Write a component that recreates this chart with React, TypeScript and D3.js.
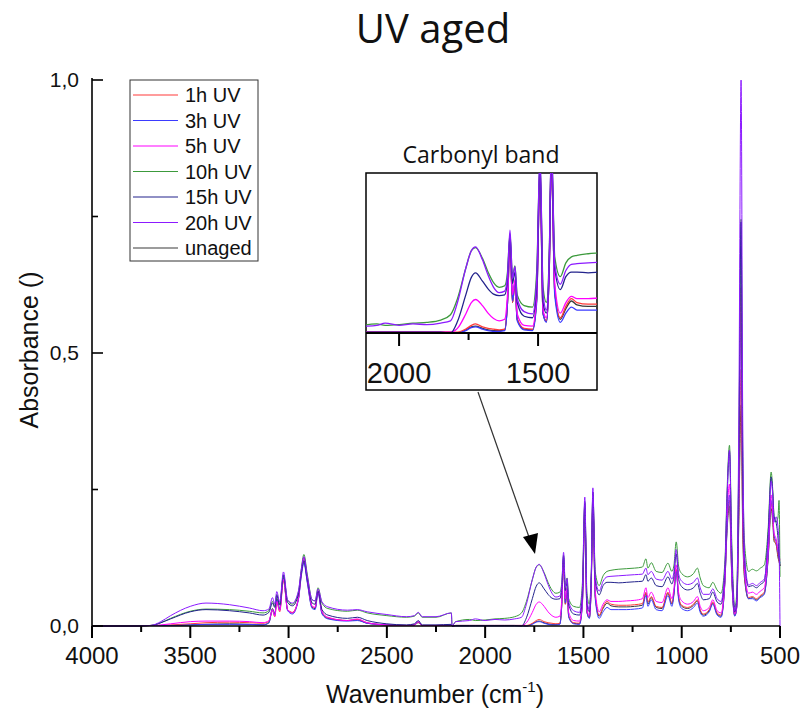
import * as d3 from "d3";

// FTIR spectra, UV aged samples
const wavenumbers = [
  4000, 3800, 3700, 3650, 3600, 3500, 3420, 3300, 3200, 3130,
  3100, 3082, 3070, 3060, 3045, 3026, 3005, 2980, 2950, 2935,
  2922, 2905, 2880, 2865, 2850, 2830, 2800, 2700, 2650, 2600,
  2500, 2400, 2360, 2340, 2320, 2250, 2172, 2168, 2150, 2080,
  2050, 2000, 1950, 1900, 1850, 1815, 1790, 1760, 1740, 1725,
  1700, 1680, 1660, 1640, 1620, 1610, 1601, 1592, 1583, 1575,
  1550, 1520, 1505, 1493, 1482, 1470, 1460, 1452, 1440, 1420,
  1400, 1380, 1360, 1320, 1280, 1240, 1200, 1182, 1172, 1155,
  1130, 1100, 1070, 1050, 1040, 1028, 1015, 1000, 970, 940,
  920, 906, 890, 860, 842, 820, 800, 780, 770, 757,
  745, 730, 720, 710, 698, 690, 680, 660, 640, 620,
  600, 580, 560, 545, 537, 530, 520, 510, 505, 500,
];

const unaged = [
  0, 0, 0.001, 0.001, 0.001, 0.002, 0.003, 0.004, 0.003, 0.002,
  0.006, 0.032, 0.022, 0.05, 0.031, 0.088, 0.03, 0.024, 0.05, 0.095,
  0.118, 0.082, 0.034, 0.032, 0.062, 0.024, 0.014, 0.01, 0.011, 0.005,
  0.002, 0.001, 0.002, 0.006, 0.001, 0.001, 0.001, 0, 0.001, 0.001,
  0.001, 0.001, 0.001, 0.001, 0.001, 0.001, 0, 0.004, 0.008, 0.009,
  0.006, 0.004, 0.003, 0.003, 0.004, 0.04, 0.12, 0.04, 0.066, 0.018,
  0.005, 0.004, 0.045, 0.205, 0.026, 0.015, 0.08, 0.225, 0.055, 0.018,
  0.032, 0.042, 0.037, 0.035, 0.035, 0.036, 0.038, 0.06, 0.04, 0.052,
  0.034, 0.032, 0.06, 0.04, 0.058, 0.102, 0.05, 0.036, 0.032, 0.038,
  0.046, 0.028, 0.02, 0.028, 0.042, 0.022, 0.018, 0.083, 0.17, 0.22,
  0.085, 0.019, 0.035, 0.18, 0.405, 0.18, 0.085, 0.05, 0.052, 0.048,
  0.054, 0.06, 0.125, 0.215, 0.19, 0.155, 0.15, 0.125, 0.118, 0.11,
];

const uv1h = [
  0, 0, 0.001, 0.001, 0.002, 0.004, 0.006, 0.007, 0.006, 0.005,
  0.008, 0.028, 0.017, 0.044, 0.026, 0.083, 0.03, 0.025, 0.05, 0.1,
  0.126, 0.088, 0.036, 0.034, 0.065, 0.026, 0.015, 0.01, 0.012, 0.006,
  0.002, 0.001, 0.002, 0.007, 0.001, 0.001, 0.001, 0, 0.001, 0.001,
  0.001, 0.001, 0.001, 0.001, 0.001, 0.001, 0.001, 0.005, 0.01, 0.012,
  0.008, 0.006, 0.005, 0.004, 0.005, 0.04, 0.118, 0.04, 0.065, 0.018,
  0.006, 0.005, 0.045, 0.21, 0.025, 0.016, 0.08, 0.228, 0.055, 0.02,
  0.035, 0.045, 0.04, 0.038, 0.038, 0.039, 0.041, 0.062, 0.044, 0.054,
  0.036, 0.034, 0.062, 0.042, 0.06, 0.104, 0.052, 0.038, 0.034, 0.04,
  0.048, 0.03, 0.022, 0.03, 0.044, 0.024, 0.02, 0.085, 0.18, 0.23,
  0.09, 0.02, 0.036, 0.2, 0.47, 0.2, 0.09, 0.052, 0.054, 0.05,
  0.056, 0.062, 0.13, 0.225, 0.2, 0.16, 0.15, 0.13, 0.12, 0.11,
];

const uv3h = [
  0, 0, 0.001, 0.001, 0.001, 0.002, 0.003, 0.003, 0.003, 0.002,
  0.006, 0.03, 0.02, 0.048, 0.03, 0.09, 0.028, 0.022, 0.048, 0.092,
  0.115, 0.08, 0.032, 0.03, 0.06, 0.022, 0.013, 0.009, 0.01, 0.005,
  0.002, 0.001, 0.002, 0.008, 0.001, 0.001, 0.001, 0, 0, 0,
  0, 0, 0, 0, 0, 0, 0, 0.003, 0.007, 0.008,
  0.005, 0.003, 0.002, 0.002, 0.003, 0.04, 0.125, 0.042, 0.068, 0.016,
  0.004, 0.003, 0.04, 0.215, 0.025, 0.014, 0.078, 0.232, 0.05, 0.014,
  0.026, 0.034, 0.03, 0.03, 0.03, 0.031, 0.033, 0.056, 0.036, 0.048,
  0.03, 0.028, 0.056, 0.036, 0.056, 0.1, 0.046, 0.032, 0.028, 0.034,
  0.042, 0.025, 0.018, 0.026, 0.04, 0.02, 0.016, 0.082, 0.175, 0.24,
  0.088, 0.018, 0.034, 0.22, 0.57, 0.24, 0.095, 0.05, 0.05, 0.046,
  0.052, 0.058, 0.128, 0.23, 0.205, 0.165, 0.155, 0.135, 0.125, 0.115,
];

const uv5h = [
  0, 0, 0.001, 0.002, 0.004, 0.008, 0.009, 0.009, 0.008, 0.006,
  0.01, 0.03, 0.018, 0.045, 0.028, 0.085, 0.03, 0.024, 0.05, 0.098,
  0.124, 0.086, 0.036, 0.034, 0.064, 0.026, 0.016, 0.01, 0.013, 0.006,
  0.002, 0.001, 0.002, 0.008, 0.001, 0.001, 0.002, 0, 0.001, 0.001,
  0.001, 0.001, 0.001, 0.001, 0.001, 0.001, 0.006, 0.025, 0.04, 0.044,
  0.036, 0.026, 0.019, 0.016, 0.018, 0.05, 0.122, 0.05, 0.07, 0.025,
  0.01, 0.009, 0.05, 0.222, 0.03, 0.02, 0.085, 0.24, 0.065, 0.026,
  0.04, 0.048, 0.045, 0.045, 0.046, 0.047, 0.05, 0.07, 0.052, 0.062,
  0.045, 0.043, 0.07, 0.05, 0.068, 0.112, 0.06, 0.046, 0.04, 0.045,
  0.054, 0.036, 0.028, 0.034, 0.048, 0.028, 0.024, 0.09, 0.195, 0.26,
  0.1, 0.022, 0.04, 0.24, 0.62, 0.26, 0.1, 0.06, 0.062, 0.058,
  0.064, 0.07, 0.14, 0.24, 0.21, 0.17, 0.16, 0.14, 0.13, 0.12,
];

const uv10h = [
  0, 0, 0.001, 0.006, 0.014, 0.027, 0.031, 0.03, 0.027, 0.024,
  0.028, 0.045, 0.036, 0.058, 0.04, 0.092, 0.046, 0.04, 0.062, 0.105,
  0.131, 0.095, 0.048, 0.046, 0.07, 0.042, 0.032, 0.027, 0.029, 0.024,
  0.019, 0.016, 0.018, 0.024, 0.016, 0.016, 0.024, 0, 0.008, 0.012,
  0.01, 0.011, 0.013, 0.014, 0.017, 0.024, 0.045, 0.085, 0.108, 0.112,
  0.098, 0.08, 0.066, 0.06, 0.062, 0.08, 0.13, 0.075, 0.088, 0.05,
  0.036, 0.034, 0.08, 0.225, 0.06, 0.04, 0.1, 0.245, 0.1, 0.074,
  0.092, 0.1, 0.102, 0.104, 0.105, 0.106, 0.108, 0.123, 0.106, 0.116,
  0.1, 0.098, 0.115, 0.1, 0.11, 0.154, 0.108, 0.096, 0.09, 0.096,
  0.106, 0.088, 0.074, 0.07, 0.08, 0.066, 0.06, 0.12, 0.24, 0.331,
  0.15, 0.034, 0.06, 0.3, 0.745, 0.33, 0.15, 0.1, 0.104, 0.101,
  0.106, 0.112, 0.18, 0.282, 0.25, 0.2, 0.19, 0.2, 0.23, 0.09,
];

const uv15h = [
  0, 0, 0.001, 0.006, 0.013, 0.026, 0.03, 0.028, 0.024, 0.02,
  0.025, 0.042, 0.034, 0.056, 0.038, 0.094, 0.043, 0.037, 0.058, 0.098,
  0.12, 0.086, 0.042, 0.04, 0.064, 0.03, 0.02, 0.014, 0.016, 0.01,
  0.004, 0.002, 0.004, 0.01, 0.002, 0.002, 0.003, 0, 0.001, 0.001,
  0.001, 0.001, 0.001, 0.001, 0.001, 0, 0.015, 0.05, 0.073, 0.079,
  0.068, 0.058, 0.051, 0.049, 0.05, 0.07, 0.128, 0.065, 0.08, 0.04,
  0.022, 0.02, 0.06, 0.228, 0.04, 0.026, 0.09, 0.245, 0.085, 0.057,
  0.074, 0.08, 0.08, 0.079, 0.08, 0.081, 0.082, 0.094, 0.082, 0.088,
  0.074, 0.072, 0.09, 0.077, 0.09, 0.132, 0.085, 0.072, 0.066, 0.07,
  0.078, 0.06, 0.048, 0.05, 0.062, 0.044, 0.04, 0.105, 0.225, 0.32,
  0.125, 0.026, 0.048, 0.28, 0.74, 0.3, 0.12, 0.072, 0.074, 0.07,
  0.076, 0.082, 0.17, 0.273, 0.245, 0.2, 0.19, 0.16, 0.13, 0.11,
];

const uv20h = [
  0, 0, 0.001, 0.008, 0.019, 0.036, 0.042, 0.039, 0.033, 0.028,
  0.031, 0.052, 0.04, 0.063, 0.044, 0.099, 0.048, 0.042, 0.064, 0.104,
  0.127, 0.092, 0.048, 0.046, 0.068, 0.044, 0.035, 0.029, 0.03, 0.026,
  0.021, 0.017, 0.019, 0.025, 0.017, 0.017, 0.024, 0, 0.008, 0.01,
  0.013, 0.01, 0.012, 0.011, 0.013, 0.016, 0.04, 0.085, 0.108, 0.113,
  0.096, 0.076, 0.06, 0.053, 0.055, 0.075, 0.135, 0.072, 0.087, 0.045,
  0.028, 0.025, 0.07, 0.236, 0.05, 0.03, 0.095, 0.253, 0.09, 0.064,
  0.082, 0.09, 0.091, 0.092, 0.093, 0.094, 0.095, 0.106, 0.094, 0.1,
  0.086, 0.084, 0.1, 0.086, 0.098, 0.14, 0.094, 0.082, 0.076, 0.08,
  0.088, 0.07, 0.058, 0.058, 0.068, 0.05, 0.045, 0.11, 0.23, 0.322,
  0.13, 0.028, 0.05, 0.35, 1.0, 0.4, 0.13, 0.075, 0.078, 0.074,
  0.08, 0.086, 0.16, 0.265, 0.24, 0.19, 0.2, 0.18, 0.15, 0,
];

const seriesNames = ["1h UV", "3h UV", "5h UV", "10h UV", "15h UV", "20h UV", "unaged"];
const seriesColors = ["#ff3b3b", "#3b3bff", "#ff00ff", "#3c9a3c", "#23238c", "#8c1aff", "#3a3a3a"];
const seriesValues = [uv1h, uv3h, uv5h, uv10h, uv15h, uv20h, unaged];
// drawing order, 20h on top
const drawOrder = [6, 0, 1, 2, 3, 4, 5];

const xTicks = [4000, 3500, 3000, 2500, 2000, 1500, 1000, 500];
const xMinor = [3750, 3250, 2750, 2250, 1750, 1250, 750];
const yTicks = [0, 0.5, 1.0];
const yMinor = [0.25, 0.75];
const insetTicks = [2000, 1500];
const insetMinor = [1750];

const W = 802;
const H = 719;
const fontSans = "'Liberation Sans', Arial, sans-serif";
const fontTitle = "'Open Sans', 'Noto Sans', sans-serif";

export default function App() {
  const x = d3.scaleLinear().domain([4000, 500]).range([92, 780]);
  const y = d3.scaleLinear().domain([0, 1]).range([626, 80]);

  const ix = d3.scaleLinear().domain([2119, 1288]).range([366, 597]);
  const iy = d3.scaleLinear().domain([0, 0.21]).range([333, 173]);

  const pts = (vals: number[]) => wavenumbers.map((w, i) => [w, vals[i]] as [number, number]);

  const line = d3
    .line<[number, number]>()
    .x((d) => x(d[0]))
    .y((d) => y(d[1]))
    .curve(d3.curveMonotoneX);

  const insetLine = d3
    .line<[number, number]>()
    .x((d) => ix(d[0]))
    .y((d) => iy(d[1]))
    .curve(d3.curveMonotoneX);

  const fmt = (v: number) => v.toFixed(1).replace(".", ",");

  return (
    <div style={{ position: "absolute", left: 0, top: 0 }}>
      <svg width={W} height={H} style={{ display: "block", background: "#fff" }}>
        <defs>
          <clipPath id="insetClip">
            <rect x={366} y={173} width={231} height={160} />
          </clipPath>
        </defs>

        {/* title */}
        <text x={433} y={43} textAnchor="middle" fontFamily={fontTitle} fontSize={40} fill="#111">
          UV aged
        </text>

        {/* spectra */}
        {drawOrder.map((k) => (
          <path key={k} d={line(pts(seriesValues[k])) || ""} fill="none" stroke={seriesColors[k]} strokeWidth={1} />
        ))}

        {/* x axis */}
        <line x1={92} x2={780} y1={626} y2={626} stroke="#000" strokeWidth={1.6} />
        {xTicks.map((t) => (
          <g key={t}>
            <line x1={x(t)} x2={x(t)} y1={626} y2={638} stroke="#000" strokeWidth={2} />
            <text x={x(t)} y={664} textAnchor="middle" fontFamily={fontSans} fontSize={24} fill="#111">
              {t}
            </text>
          </g>
        ))}
        {xMinor.map((t) => (
          <line key={t} x1={x(t)} x2={x(t)} y1={626} y2={632} stroke="#000" strokeWidth={2} />
        ))}
        <text x={435} y={703} textAnchor="middle" fontFamily={fontSans} fontSize={25} fill="#111">
          Wavenumber (cm
          <tspan fontSize={15} dy={-11}>-1</tspan>
          <tspan dy={11}>)</tspan>
        </text>

        {/* y axis */}
        <line x1={92} x2={92} y1={78} y2={627} stroke="#000" strokeWidth={1.6} />
        {yTicks.map((t) => (
          <g key={t}>
            <line x1={92} x2={103} y1={y(t)} y2={y(t)} stroke="#000" strokeWidth={1.6} />
            <text x={79} y={y(t)} dy="0.35em" textAnchor="end" fontFamily={fontSans} fontSize={21} fill="#111">
              {fmt(t)}
            </text>
          </g>
        ))}
        {yMinor.map((t) => (
          <line key={t} x1={92} x2={98} y1={y(t)} y2={y(t)} stroke="#000" strokeWidth={1.6} />
        ))}
        <text
          transform="translate(38,350) rotate(-90)"
          textAnchor="middle"
          fontFamily={fontSans}
          fontSize={25}
          fill="#111"
        >
          Absorbance ()
        </text>

        {/* legend */}
        <rect x={130} y={80} width={128} height={181} fill="#fff" stroke="#333" strokeWidth={1} />
        {seriesNames.map((n, i) => (
          <g key={n}>
            <line x1={133} x2={178} y1={95 + i * 25.5} y2={95 + i * 25.5} stroke={seriesColors[i]} strokeWidth={1.2} />
            <text x={185} y={95 + i * 25.5} dy="0.35em" fontFamily={fontSans} fontSize={20} fill="#111">
              {n}
            </text>
          </g>
        ))}

        {/* inset */}
        <text x={481} y={163} textAnchor="middle" fontFamily={fontTitle} fontSize={23} fill="#111">
          Carbonyl band
        </text>
        <rect x={366} y={173} width={231} height={217} fill="#fff" stroke="#000" strokeWidth={1.5} />
        <g clipPath="url(#insetClip)">
          {drawOrder.map((k) => (
            <path
              key={k}
              d={insetLine(pts(seriesValues[k])) || ""}
              fill="none"
              stroke={seriesColors[k]}
              strokeWidth={1.3}
            />
          ))}
        </g>
        <line x1={366} x2={597} y1={333} y2={333} stroke="#000" strokeWidth={2} />
        {insetTicks.map((t) => (
          <g key={t}>
            <line x1={ix(t)} x2={ix(t)} y1={333} y2={346} stroke="#000" strokeWidth={2} />
            <text x={ix(t)} y={383} textAnchor="middle" fontFamily={fontSans} fontSize={29} fill="#111">
              {t}
            </text>
          </g>
        ))}
        {insetMinor.map((t) => (
          <line key={t} x1={ix(t)} x2={ix(t)} y1={333} y2={340} stroke="#000" strokeWidth={2} />
        ))}

        {/* arrow */}
        <line x1={478} y1={392} x2={530} y2={540} stroke="#333" strokeWidth={1.2} />
        <path d="M535,554 L523,537 L538,533 Z" fill="#000" />
      </svg>
    </div>
  );
}
